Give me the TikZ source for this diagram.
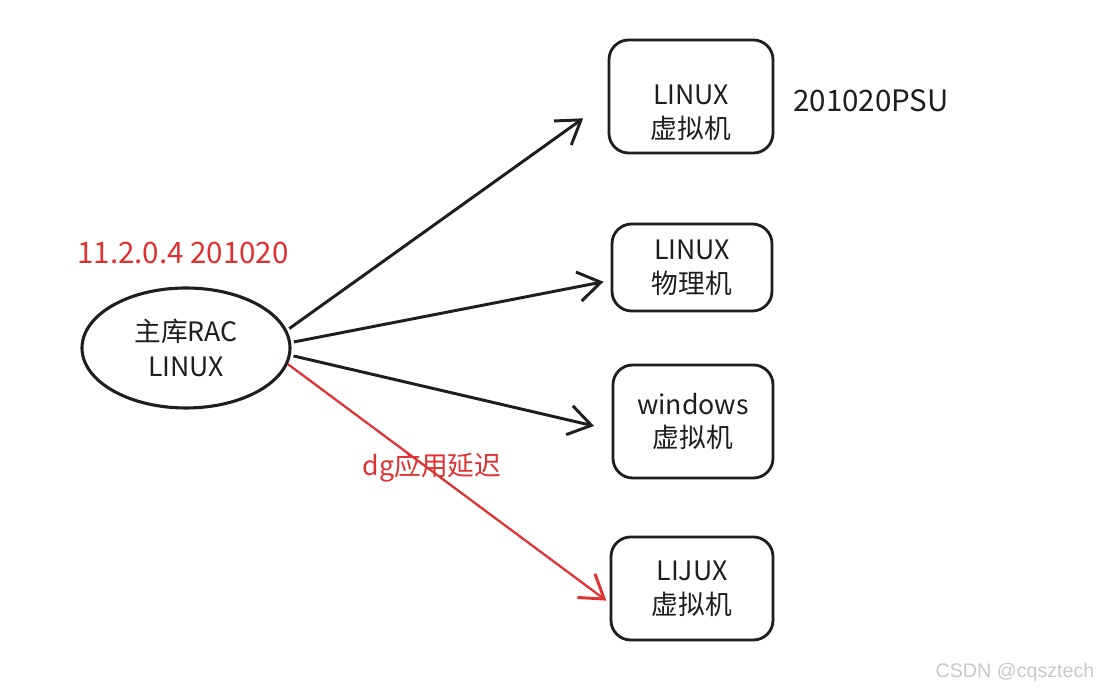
\documentclass[tikz,border=0pt]{standalone}
\usepackage{fontspec}
\setmainfont{Noto Sans CJK SC}
\newfontfamily\wmfont{Liberation Sans}
\usepackage{tikz}
\usetikzlibrary{shapes.geometric, arrows.meta, positioning}
\definecolor{inkdark}{RGB}{30,30,30}
\definecolor{inkred}{RGB}{224,49,49}
\definecolor{wmgray}{RGB}{200,200,200}
\tikzset{
  vmbox/.style={rectangle, draw=inkdark, line width=2pt, rounded corners=14pt,
    align=center, font=\fontsize{19}{24}\selectfont, text=inkdark},
  hostell/.style={ellipse, draw=inkdark, line width=2.2pt,
    minimum width=5.2cm, minimum height=3.0cm, align=center,
    font=\fontsize{19}{25}\selectfont, text=inkdark},
  arrow/.style={-{Straight Barb[length=16pt, width=21pt, line width=2.1pt]},
    line width=2.1pt, color=inkdark},
  redarrow/.style={arrow, color=inkred, line width=1.6pt},
  note/.style={font=\fontsize{21}{26}\selectfont}
}
\begin{document}
\begin{tikzpicture}
  \useasboundingbox[fill=white] (0,0) rectangle (27.675,17.3);

  % Primary database
  \node[hostell] (rac) at (4.65,8.6) {主库RAC\\LINUX};

  % Standby hosts
  \node[vmbox, minimum width=4.1cm, minimum height=2.825cm] (vm1) at (17.275,14.8875) {\rule{0pt}{1.29cm}LINUX\\虚拟机};
  \node[vmbox, minimum width=4.0cm, minimum height=2.175cm] (pm2) at (17.3,10.6125) {LINUX\\物理机};
  \node[vmbox, minimum width=4.0cm, minimum height=2.825cm] (win3) at (17.325,6.7625) {windows\\虚拟机};
  \node[vmbox, minimum width=4.05cm, minimum height=2.575cm] (vm4) at (17.3,2.5875) {LIJUX\\虚拟机};

  % Labels
  \node[note, text=inkred] (ver) at (4.575,10.975) {11.2.0.4 201020};
  \node[note, text=inkdark] (psu) at (21.775,14.775) {201020PSU};
  \node[font=\fontsize{19}{24}\selectfont, text=inkred] (lag) at (10.8,5.6) {dg应用延迟};
  \node[font=\wmfont\fontsize{14}{16}\selectfont, text=wmgray] (wm) at (25.375,0.5) {CSDN @cqsztech};

  % Connections
  \draw[arrow, shorten <=2pt, shorten >=0.75cm] (rac.10) -- (vm1.183);
  \draw[arrow, shorten <=2pt, shorten >=0.18cm] (rac.3) -- (pm2.189);
  \draw[arrow, shorten <=2pt, shorten >=0.45cm] (rac.-4) -- (win3.186);
  \draw[redarrow, shorten >=0.1cm] (rac.-9) -- (vm4.190);
\end{tikzpicture}
\end{document}
